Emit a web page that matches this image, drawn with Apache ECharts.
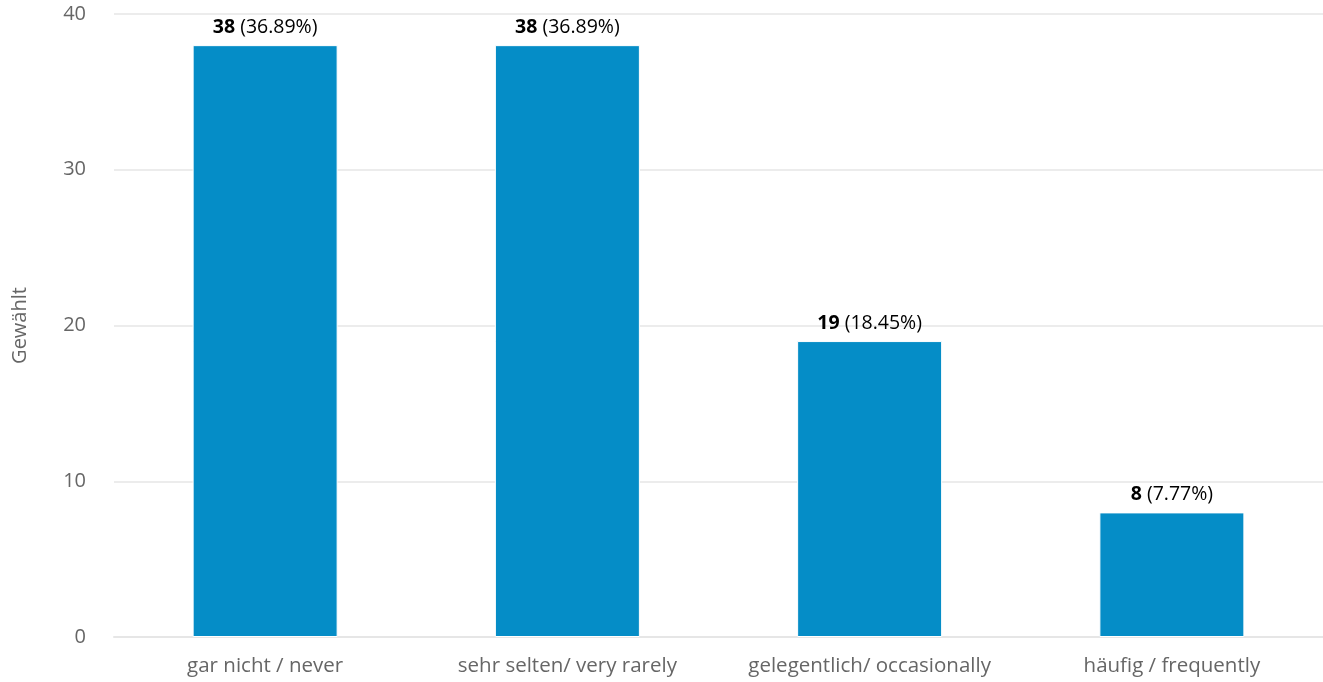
<!DOCTYPE html>
<html>
<head>
<meta charset="utf-8">
<script src="https://cdn.jsdelivr.net/npm/echarts@6/dist/echarts.min.js"></script>
<style>html,body{margin:0;padding:0;background:#fff}#c{width:1323px;height:682px}</style>
</head>
<body>
<div id="c"></div>
<script>
const categories = ['gar nicht / never', 'sehr selten/ very rarely', 'gelegentlich/ occasionally', 'häufig / frequently'];
const counts = [38, 38, 19, 8];
const percents = ['36.89%', '36.89%', '18.45%', '7.77%'];
const yTicks = [0, 10, 20, 30, 40];

const chart = echarts.init(document.getElementById('c'));
const font = '"Open Sans", sans-serif';
chart.setOption({
  animation: false,
  textStyle: { fontFamily: font },
  grid: { left: 114, right: 0, top: 14, bottom: 45, containLabel: false },
  xAxis: {
    type: 'category',
    data: categories,
    axisLine: { show: true, lineStyle: { color: '#e6e6e6', width: 2 } },
    axisTick: { show: false },
    axisLabel: { color: '#666', fontSize: 20.5, fontFamily: font, margin: 19, interval: 0, hideOverlap: false }
  },
  yAxis: {
    type: 'value',
    min: yTicks[0], max: yTicks[yTicks.length - 1], interval: 10,
    name: 'Gewählt',
    nameLocation: 'middle',
    nameGap: 84,
    nameTextStyle: { color: '#666', fontSize: 20, fontFamily: font },
    axisLine: { show: false },
    axisTick: { show: false },
    splitLine: { lineStyle: { color: '#e6e6e6', width: 1.5 } },
    axisLabel: { color: '#666', fontSize: 20, fontFamily: font, margin: 28 }
  },
  series: [{
    type: 'bar',
    data: counts,
    barWidth: 145,
    itemStyle: { color: '#058DC7', borderColor: '#fff', borderWidth: 1 },
    label: {
      show: true,
      position: 'top',
      distance: 8,
      formatter: p => '{b|' + p.value + '}{n| (' + percents[p.dataIndex] + ')}',
      rich: {
        b: { fontWeight: 'bold', fontSize: 19.5, color: '#000', fontFamily: font },
        n: { fontSize: 19.5, color: '#000', fontFamily: font }
      }
    }
  }]
});
</script>
</body>
</html>
